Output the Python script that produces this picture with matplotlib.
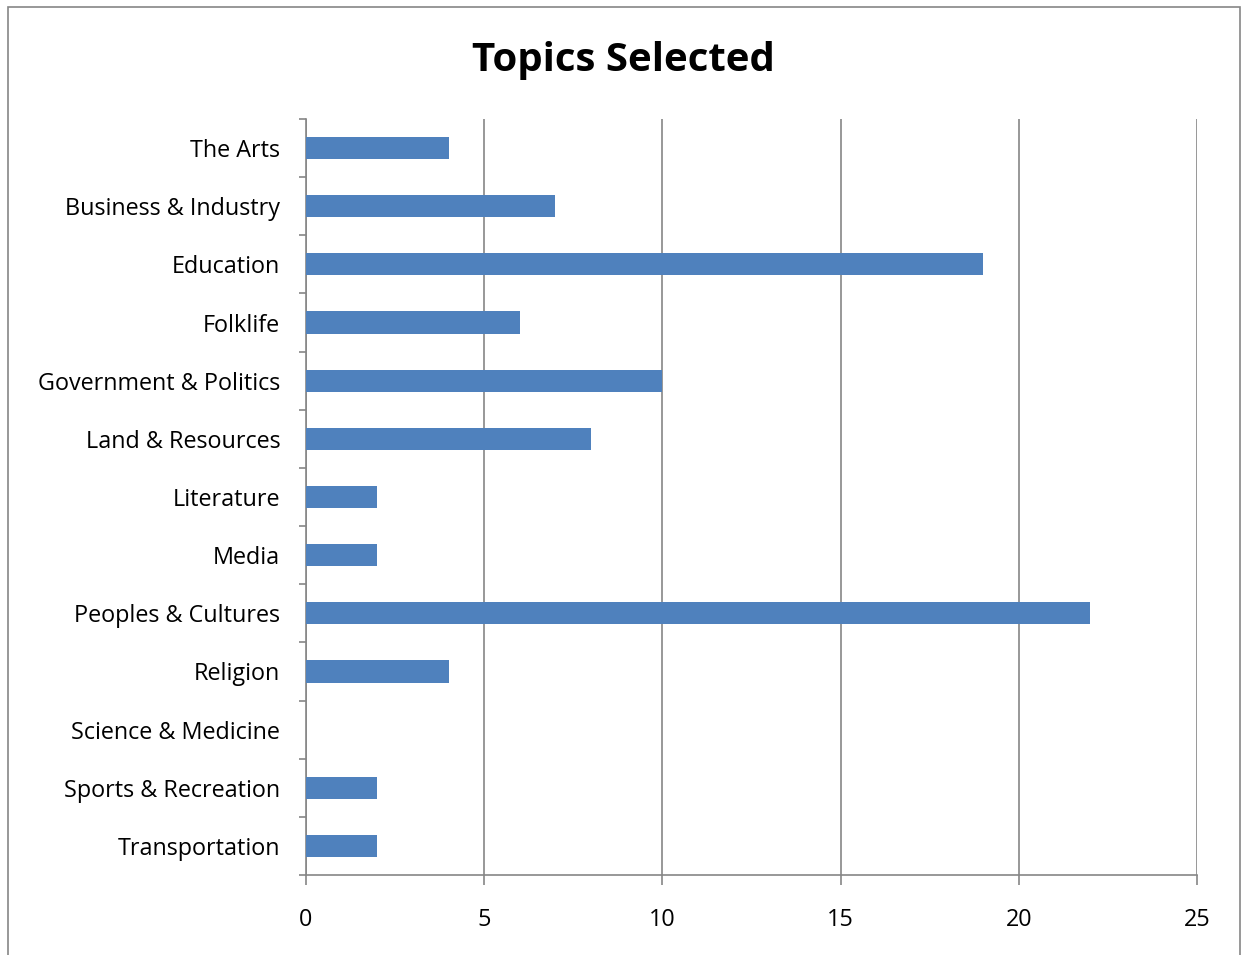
import matplotlib.pyplot as plt
import numpy as np

plt.rcParams['font.family'] = ['Open Sans', 'DejaVu Sans']

topics = ['The Arts', 'Business & Industry', 'Education', 'Folklife',
          'Government & Politics', 'Land & Resources', 'Literature', 'Media',
          'Peoples & Cultures', 'Religion', 'Science & Medicine',
          'Sports & Recreation', 'Transportation']
counts = [4, 7, 19, 6, 10, 8, 2, 2, 22, 4, 0, 2, 2]
xticks = [0, 5, 10, 15, 20, 25]

fig = plt.figure(figsize=(12.41, 9.55), dpi=100)
ax = fig.add_axes([306 / 1241, 1 - 875 / 955, (1197 - 306) / 1241, (875 - 119) / 955])

# outer frame like the office chart area
fig.patches.append(plt.Rectangle((8 / 1241, -0.01), (1240 - 8) / 1241, 1 - 7 / 955 + 0.01,
                                 transform=fig.transFigure, fill=False,
                                 edgecolor='#868686', linewidth=1.2))

ypos = np.arange(len(topics))
ax.barh(ypos, counts, height=0.38, color='#4F81BD', zorder=3)
ax.set_ylim(len(topics) - 0.5, -0.5)
ax.set_xlim(0, 25)

ax.set_xticks(xticks)
ax.set_xticklabels([str(v) for v in xticks], fontsize=16.8)
ax.set_yticks(ypos)
ax.set_yticklabels(topics, fontsize=16.8)
ax.set_yticks(np.arange(len(topics) + 1) - 0.5, minor=True)
ax.tick_params(axis='y', which='major', length=0, pad=18.5)
ax.tick_params(axis='y', which='minor', length=5, color='#868686', width=1.2)
ax.tick_params(axis='x', which='major', length=7, color='#868686', width=1.2,
               direction='out', pad=16.5)

ax.grid(axis='x', color='#868686', linewidth=1.2, zorder=0)
for s in ['top', 'right']:
    ax.spines[s].set_visible(False)
for s in ['left', 'bottom']:
    ax.spines[s].set_color('#868686')
    ax.spines[s].set_linewidth(1.2)

fig.text(623 / 1241, 1 - 60 / 955, 'Topics Selected', ha='center', va='center',
         fontsize=29, fontweight='bold')

fig.savefig('out.png', dpi=100)
